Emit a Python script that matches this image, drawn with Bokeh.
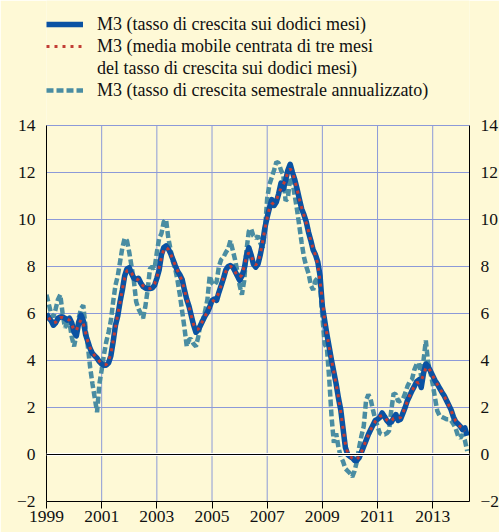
from bokeh.plotting import figure
from bokeh.models import Range1d, LinearAxis, FixedTicker, Legend, LegendItem, Span
from bokeh.embed import file_html
from bokeh.resources import INLINE

# ---- data (monthly, Jan 1999 - Apr 2014) ----
start_year = 1999
x_ticks = [1999, 2001, 2003, 2005, 2007, 2009, 2011, 2013]
y_ticks = [-2, 0, 2, 4, 6, 8, 10, 12, 14]

m3_12m = [6.0, 5.8, 5.7, 5.5, 5.6, 5.8, 5.85, 5.85, 5.8, 5.72, 5.8, 5.6,
          5.2, 5.05, 5.6, 5.93, 5.7, 5.1, 4.8, 4.5, 4.3, 4.2, 4.1, 3.95,
          3.85, 3.8, 3.8, 3.9, 4.2, 4.8, 5.5, 5.9, 6.5, 7.0, 7.6, 7.9,
          7.95, 7.7, 7.5, 7.45, 7.5, 7.3, 7.15, 7.08, 7.05, 7.06, 7.08, 7.2,
          7.5, 7.85, 8.5, 8.8, 8.88, 8.75, 8.55, 8.3, 8.04, 7.8, 7.65, 7.45,
          7.0, 6.6, 6.3, 5.9, 5.5, 5.2, 5.3, 5.5, 5.7, 5.9, 6.05, 6.28,
          6.55, 6.62, 6.56, 6.9, 7.2, 7.5, 7.85, 8.0, 8.04, 7.98, 7.8, 7.6,
          7.41, 7.6, 7.9, 8.47, 8.8, 8.5, 8.1, 7.97, 8.1, 8.5, 9.0, 9.65,
          10.1, 10.5, 10.85, 10.6, 10.75, 11.1, 11.55, 11.3, 11.65, 12.1, 12.35, 12.0,
          11.7, 11.3, 10.87, 10.45, 10.2, 9.9, 9.45, 9.1, 8.7, 8.5, 8.2, 7.6,
          6.3, 5.7, 5.1, 4.55, 4.0, 3.5, 3.0, 2.4, 1.9, 1.1, 0.3, 0.0,
          -0.08, -0.14, -0.25, -0.25, -0.14, 0.1, 0.35, 0.6, 0.85, 1.05, 1.25, 1.45,
          1.5, 1.58, 1.77, 1.62, 1.45, 1.34, 1.38, 1.55, 1.7, 1.45, 1.5, 1.75,
          2.0, 2.3, 2.5, 2.72, 2.9, 3.1, 3.18, 2.85, 3.45, 3.85, 3.75, 3.55,
          3.35, 3.15, 3.0, 2.82, 2.65, 2.5, 2.3, 2.1, 1.9, 1.6, 1.4, 1.3,
          1.2, 1.06, 1.13, 0.8]

# centred three-month moving average (Feb 1999 - Mar 2014)
m3_ma3 = [5.83, 5.67, 5.6, 5.63, 5.75, 5.83, 5.83, 5.79, 5.77, 5.71, 5.53,
          5.28, 5.28, 5.53, 5.74, 5.58, 5.2, 4.8, 4.53, 4.33, 4.2, 4.08, 3.97,
          3.87, 3.82, 3.83, 3.97, 4.3, 4.83, 5.4, 5.97, 6.47, 7.03, 7.5, 7.82,
          7.85, 7.72, 7.55, 7.48, 7.42, 7.32, 7.18, 7.09, 7.06, 7.06, 7.11, 7.26,
          7.52, 7.95, 8.38, 8.73, 8.81, 8.73, 8.53, 8.3, 8.05, 7.83, 7.63, 7.37,
          7.02, 6.63, 6.27, 5.9, 5.53, 5.33, 5.33, 5.5, 5.7, 5.88, 6.08, 6.29,
          6.48, 6.58, 6.69, 6.89, 7.2, 7.52, 7.78, 7.96, 8.01, 7.94, 7.79, 7.6,
          7.54, 7.64, 7.99, 8.39, 8.59, 8.47, 8.19, 8.06, 8.19, 8.53, 9.05, 9.58,
          10.08, 10.48, 10.65, 10.73, 10.82, 11.13, 11.32, 11.5, 11.68, 12.03, 12.15, 12.02,
          11.67, 11.29, 10.87, 10.51, 10.18, 9.85, 9.48, 9.08, 8.77, 8.47, 8.1, 7.37,
          6.53, 5.7, 5.12, 4.55, 4.02, 3.5, 2.97, 2.43, 1.8, 1.1, 0.47, 0.07,
          -0.07, -0.16, -0.21, -0.21, -0.1, 0.1, 0.35, 0.6, 0.83, 1.05, 1.25, 1.4,
          1.51, 1.62, 1.66, 1.61, 1.47, 1.39, 1.42, 1.54, 1.57, 1.55, 1.57, 1.75,
          2.02, 2.27, 2.51, 2.71, 2.91, 3.06, 3.04, 3.16, 3.38, 3.68, 3.72, 3.55,
          3.35, 3.17, 2.99, 2.82, 2.66, 2.48, 2.3, 2.1, 1.87, 1.63, 1.43, 1.3,
          1.19, 1.13, 1.0]

m3_6m = [6.8, 6.4, 6.0, 5.85, 6.2, 6.6, 6.8, 6.0, 5.4, 5.55, 5.6, 5.0,
         4.6, 5.1, 5.8, 6.2, 6.35, 5.4, 4.6, 3.7, 3.0, 2.4, 1.8, 3.0,
         3.6, 4.25, 4.8, 5.2, 5.7, 6.5, 7.2, 7.6, 8.2, 8.8, 9.2, 9.1,
         8.6, 8.0, 7.4, 6.5, 6.2, 6.0, 5.8, 6.3, 7.0, 7.9, 8.0, 7.9,
         8.6, 9.2, 9.4, 9.9, 10.0, 9.2, 8.7, 8.2, 7.9, 7.4, 6.8, 6.1,
         5.4, 4.6, 4.9, 4.9, 4.7, 4.6, 5.0, 5.6, 5.7, 6.1, 6.6, 7.6,
         7.3, 7.2, 7.35, 8.0, 8.3, 8.4, 8.6, 8.75, 9.1, 8.7, 8.3, 7.8,
         7.2, 6.8, 7.4, 8.7, 9.5, 9.6, 9.3, 9.2, 9.3, 9.0, 8.8, 9.5,
         10.9, 11.5, 11.8, 12.1, 12.45, 12.4, 12.1, 11.9, 10.8, 10.9, 11.8, 11.6,
         11.0, 10.4, 9.7, 9.0, 8.4, 8.0, 7.7, 7.2, 7.0, 7.4, 7.5, 7.2,
         5.9, 4.7, 4.5, 3.2, 1.6, 0.5, 0.9, 0.3, -0.1, -0.3, -0.6, -0.7,
         -0.8, -0.95, -0.7, -0.3, 0.3, 0.8, 1.2, 2.3, 2.55, 2.35, 1.9, 1.5,
         1.2, 0.9, 0.85, 0.85, 0.9, 1.0, 1.9, 2.6, 2.55, 2.25, 2.3, 2.35,
         2.6, 2.9, 3.1, 3.2, 3.6, 3.85, 3.9, 3.3, 4.0, 4.85, 3.9, 3.5,
         3.0, 2.4, 1.85, 1.65, 1.6, 1.55, 1.5, 1.5, 1.45, 1.3, 1.1, 0.8,
         0.7, 0.85, 0.6, 0.15]

labels = ["M3 (tasso di crescita sui dodici mesi)",
          "M3 (media mobile centrata di tre mesi",
          "del tasso di crescita sui dodici mesi)",
          "M3 (tasso di crescita semestrale annualizzato)"]

x12 = [start_year + i / 12 for i in range(len(m3_12m))]
xma = [start_year + (i + 1) / 12 for i in range(len(m3_ma3))]
x6 = [start_year + i / 12 for i in range(len(m3_6m))]

# ---- styling ----
CREAM = "#FEF9D6"
GRID = "#8C9AD8"
BLUE = "#0A52A3"
RED = "#C23E35"
TEAL = "#4A8DA2"
FONT = "Liberation Serif"
TXT = "#111111"

PLOT_H = 376          # height of the data area in px
LEGEND_H = 125        # room above the data area for the legend
ROW_H = 22
y_lo, y_hi = y_ticks[0], y_ticks[-1]
y_top = y_hi + (y_hi - y_lo) * LEGEND_H / PLOT_H

p = figure(frame_width=423, frame_height=PLOT_H + LEGEND_H,
           min_border_left=46, min_border_right=30,
           min_border_top=0, min_border_bottom=31,
           x_range=Range1d(start_year, start_year + 184 / 12),
           y_range=Range1d(y_lo, y_top),
           output_backend="svg", toolbar_location=None)

p.background_fill_color = CREAM
p.border_fill_color = CREAM
p.outline_line_color = None

p.xgrid.visible = False
p.ygrid.ticker = FixedTicker(ticks=y_ticks)
p.ygrid.grid_line_color = GRID
p.ygrid.grid_line_width = 1

# vertical grid lines limited to the data area
p.segment(x0=x_ticks, y0=[y_lo] * len(x_ticks), x1=x_ticks, y1=[y_hi] * len(x_ticks),
          line_color=GRID, line_width=1, level="underlay")

xa = p.xaxis[0]
xa.ticker = FixedTicker(ticks=x_ticks)
xa.axis_line_color = "black"
xa.major_tick_line_color = "black"
xa.major_tick_out = 7
xa.major_tick_in = 0
xa.minor_tick_out = 0
xa.minor_tick_in = 0
xa.major_label_standoff = 2
xa.major_label_text_font = FONT
xa.major_label_text_font_size = "17.5px"
xa.major_label_text_color = TXT

ya = p.yaxis[0]
ya.ticker = FixedTicker(ticks=y_ticks)
ya.bounds = (y_lo, y_hi)
ya.axis_line_color = "black"
ya.major_tick_out = 0
ya.major_tick_in = 0
ya.minor_tick_out = 0
ya.minor_tick_in = 0
ya.major_label_standoff = 11
ya.major_label_text_font = FONT
ya.major_label_text_font_size = "17.5px"
ya.major_label_text_color = TXT

ra = LinearAxis(ticker=FixedTicker(ticks=y_ticks), bounds=(y_lo, y_hi))
ra.axis_line_color = "black"
ra.major_tick_out = 0
ra.major_tick_in = 0
ra.minor_tick_out = 0
ra.minor_tick_in = 0
ra.major_label_standoff = 11
ra.major_label_text_font = FONT
ra.major_label_text_font_size = "17.5px"
ra.major_label_text_color = TXT
p.add_layout(ra, "right")

p.add_layout(Span(location=0, dimension="width", line_color="white", line_width=3))
p.add_layout(Span(location=0, dimension="width", line_color="black", line_width=1.2))

r6 = p.line(x6, m3_6m, line_color=TEAL, line_width=4.5, line_dash="7 3")
r12 = p.line(x12, m3_12m, line_color=BLUE, line_width=5.5, line_join="round")
rma = p.line(xma, m3_ma3, line_color=RED, line_width=3, line_dash="3 5", line_cap="butt")
rdummy = p.line(x=[], y=[], line_alpha=0)

legend = Legend(items=[LegendItem(label=labels[0], renderers=[r12]),
                       LegendItem(label=labels[1], renderers=[rma]),
                       LegendItem(label=labels[2], renderers=[rdummy]),
                       LegendItem(label=labels[3], renderers=[r6])],
                location=(0, PLOT_H + LEGEND_H - 13 - 4 * ROW_H))
legend.background_fill_alpha = 0
legend.border_line_color = None
legend.padding = 0
legend.margin = 0
legend.spacing = 0
legend.glyph_width = 37
legend.glyph_height = ROW_H
legend.label_height = ROW_H
legend.label_standoff = 14
legend.label_text_font = FONT
legend.label_text_font_size = "18px"
legend.label_text_color = TXT
legend.label_text_baseline = "middle"
p.add_layout(legend)

open("out.html", "w").write(file_html(p, INLINE))
